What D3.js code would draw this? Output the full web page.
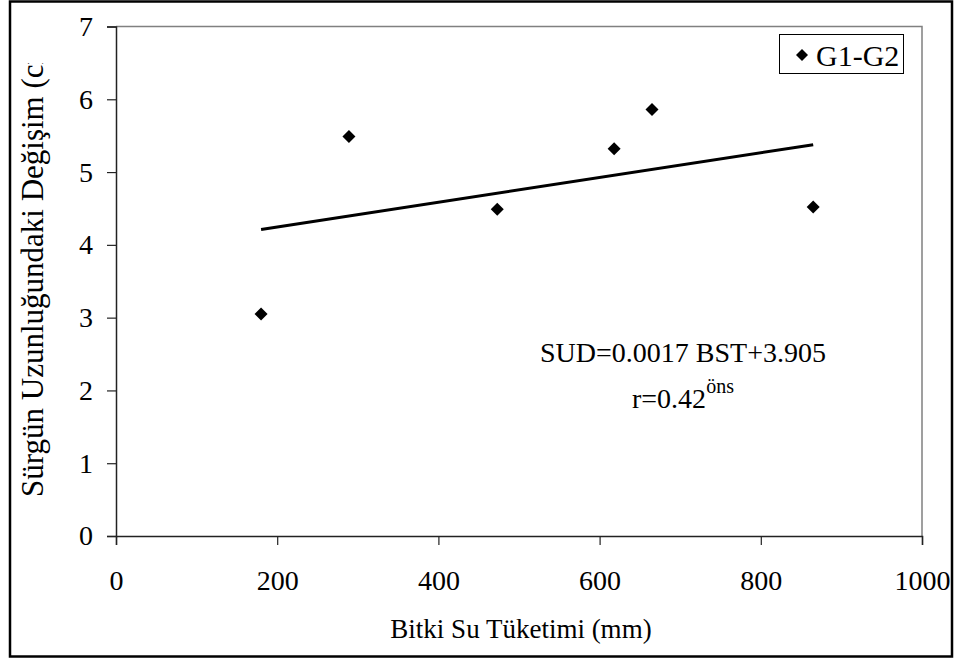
<!DOCTYPE html>
<html>
<head>
<meta charset="utf-8">
<script src="https://cdn.jsdelivr.net/npm/d3@7/dist/d3.min.js"></script>
<style>
  html, body { margin: 0; padding: 0; background: #fff; }
  svg { display: block; font-family: "Liberation Serif", "Times New Roman", serif; }
</style>
</head>
<body>
<svg id="chart" width="960" height="660"></svg>
<script>
// Water use (mm) versus change in shoot length, G1-G2
const bstValues = [180, 289, 473, 618, 665, 865];
const sudValues = [3.05, 5.49, 4.49, 5.32, 5.86, 4.52];
const xTicks = [0, 200, 400, 600, 800, 1000];
const yTicks = [0, 1, 2, 3, 4, 5, 6, 7];
const seriesName = "G1-G2";
const slope = 0.0017, intercept = 3.905;
const fitRange = [180, 865];
const equationText = "SUD=0.0017 BST+3.905";
const rText = "r=0.42", rSup = "öns";
const xTitle = "Bitki Su Tüketimi (mm)";
const yTitle = "Sürgün Uzunluğundaki Değişim (cm)";

const svg = d3.select("#chart");
const plot = { left: 116, right: 922, top: 26.5, bottom: 536 };

const x = d3.scaleLinear().domain([0, 1000]).range([plot.left, plot.right]);
const y = d3.scaleLinear().domain([0, 7]).range([plot.bottom, plot.top]);

// outer frame
svg.append("rect")
  .attr("x", 10).attr("y", 1.5).attr("width", 942).attr("height", 655)
  .attr("fill", "none").attr("stroke", "#000").attr("stroke-width", 2.5);

// plot area frame (top and right edges in grey)
svg.append("path")
  .attr("d", `M${plot.left},${plot.top}H${plot.right}V${plot.bottom}`)
  .attr("fill", "none").attr("stroke", "#808080").attr("stroke-width", 1.5);

// axes
const xAxis = d3.axisBottom(x).tickValues(xTicks).tickSize(9).tickPadding(25).tickFormat(d3.format("d"));
const gx = svg.append("g").attr("transform", `translate(0,${plot.bottom})`).call(xAxis);
gx.select(".domain").attr("stroke", "#222").attr("stroke-width", 1.5);
gx.selectAll(".tick line").attr("stroke", "#222").attr("stroke-width", 1.2);
gx.selectAll(".tick text").attr("font-size", 28).attr("font-family", "Liberation Serif").attr("fill", "#000");

const yAxis = d3.axisLeft(y).tickValues(yTicks).tickSize(9).tickPadding(14).tickFormat(d3.format("d"));
const gy = svg.append("g").attr("transform", `translate(${plot.left},0)`).call(yAxis);
gy.select(".domain").attr("stroke", "#222").attr("stroke-width", 1.5);
gy.selectAll(".tick line").attr("stroke", "#222").attr("stroke-width", 1.2);
gy.selectAll(".tick text").attr("font-size", 28).attr("font-family", "Liberation Serif").attr("fill", "#000");

// regression line
svg.append("line")
  .attr("x1", x(fitRange[0])).attr("y1", y(intercept + slope * fitRange[0]))
  .attr("x2", x(fitRange[1])).attr("y2", y(intercept + slope * fitRange[1]))
  .attr("stroke", "#000").attr("stroke-width", 3);

// diamond markers
const diamond = (cx, cy, r) => `M${cx},${cy - r}L${cx + r},${cy}L${cx},${cy + r}L${cx - r},${cy}Z`;
svg.append("g").selectAll("path")
  .data(bstValues.map((v, i) => [v, sudValues[i]]))
  .join("path")
  .attr("d", d => diamond(x(d[0]), y(d[1]), 6.5))
  .attr("fill", "#000");

// legend
const lg = svg.append("g");
lg.append("rect").attr("x", 779.5).attr("y", 34.5).attr("width", 124).attr("height", 39)
  .attr("fill", "#fff").attr("stroke", "#000").attr("stroke-width", 1);
lg.append("path").attr("d", diamond(802, 55, 6)).attr("fill", "#000");
lg.append("text").attr("x", 816).attr("y", 66).attr("font-size", 30).text(seriesName);

// regression equation
svg.append("text").attr("x", 683).attr("y", 362).attr("text-anchor", "middle")
  .attr("font-size", 28).text(equationText);
const rt = svg.append("text").attr("x", 632).attr("y", 408).attr("font-size", 28);
rt.append("tspan").text(rText);
rt.append("tspan").attr("dy", -15).attr("font-size", 20).text(rSup);

// axis titles
svg.append("text").attr("x", 521).attr("y", 638)
  .attr("text-anchor", "middle").attr("font-size", 27).text(xTitle);

svg.append("clipPath").attr("id", "ytclip")
  .append("rect").attr("x", 10).attr("y", 63).attr("width", 80).attr("height", 590);
svg.append("g").attr("clip-path", "url(#ytclip)")
  .append("text")
  .attr("transform", "translate(43,497) rotate(-90)")
  .attr("font-size", 31).text(yTitle);
</script>
</body>
</html>
